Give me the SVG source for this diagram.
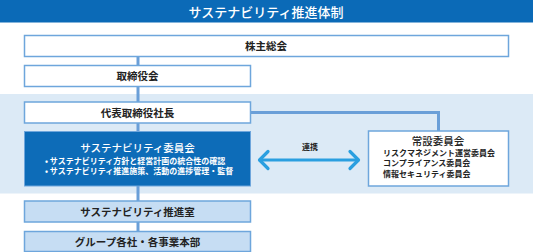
<svg xmlns="http://www.w3.org/2000/svg" width="533" height="252" viewBox="0 0 533 252">
<style>
text{font-family:"Noto Sans CJK JP","Noto Sans",sans-serif;}
.box{fill:#ffffff;stroke:#6ea6dc;stroke-width:1.5;}
.lbox{fill:#c6ddf3;stroke:#6ea6dc;stroke-width:1.5;}
.lbl{font-size:10.5px;font-weight:700;fill:#222;text-anchor:middle;}
.sm{font-size:8px;font-weight:700;fill:#222;}
.wsm{font-size:8px;font-weight:700;fill:#fff;}
.conn{fill:none;stroke:#6a9fd8;stroke-width:3;}
.arr{fill:none;stroke:#2a9fe0;stroke-width:3.2;stroke-linecap:round;stroke-linejoin:round;}
</style>
<rect x="0" y="0" width="533" height="252" fill="#ffffff"/>
<g id="title">
<rect x="0" y="0" width="533" height="22.5" fill="#0b6ab7"/>
<text x="266" y="16.5" font-size="13" fill="#ffffff" text-anchor="middle" font-weight="500">サステナビリティ推進体制</text>
</g>
<rect id="band" x="0" y="94" width="533" height="99.5" fill="#dceaf6"/>
<g id="connectors">
<line class="conn" x1="138" y1="56" x2="138" y2="232"/>
<polyline class="conn" points="250.7,112.5 438.5,112.5 438.5,131"/>
<line class="arr" x1="260" y1="160" x2="358" y2="160"/>
<polyline class="arr" points="268,151.5 259.5,160 268,168.5"/>
<polyline class="arr" points="350,151.5 358.5,160 350,168.5"/>
<text x="310" y="150" class="sm" text-anchor="middle" font-size="8">連携</text>
</g>
<g id="shareholders">
<rect class="box" x="24.5" y="35.5" width="484" height="21"/>
<text class="lbl" x="266" y="50">株主総会</text>
</g>
<g id="board">
<rect class="box" x="24.5" y="65.5" width="226" height="21"/>
<text class="lbl" x="137.5" y="80">取締役会</text>
</g>
<g id="president">
<rect class="box" x="24.5" y="102" width="226" height="21"/>
<text class="lbl" x="137.5" y="116.5">代表取締役社長</text>
</g>
<g id="committee">
<rect x="24.5" y="131.5" width="226" height="54.5" fill="#0d6cb8" stroke="#6ea6dc" stroke-width="1"/>
<text x="137.5" y="151.5" font-size="10.5" font-weight="500" fill="#ffffff" text-anchor="middle">サステナビリティ委員会</text>
<text class="wsm" x="45" y="164">• サステナビリティ方針と経営計画の統合性の確認</text>
<text class="wsm" x="45" y="173.5">• サステナビリティ推進施策、活動の進捗管理・監督</text>
</g>
<g id="standing">
<rect class="box" x="368.5" y="131" width="140" height="55"/>
<text x="438" y="145" font-size="10.5" font-weight="500" fill="#222" text-anchor="middle">常設委員会</text>
<text class="sm" x="383" y="155.7">リスクマネジメント運営委員会</text>
<text class="sm" x="383" y="165.9">コンプライアンス委員会</text>
<text class="sm" x="383" y="177.3">情報セキュリティ委員会</text>
</g>
<g id="office">
<rect class="lbox" x="24.5" y="201" width="226" height="21"/>
<text class="lbl" x="137.5" y="215.5">サステナビリティ推進室</text>
</g>
<g id="group">
<rect class="lbox" x="24.5" y="231.5" width="226" height="20"/>
<text class="lbl" x="137.5" y="245.5">グループ各社・各事業本部</text>
</g>
</svg>
